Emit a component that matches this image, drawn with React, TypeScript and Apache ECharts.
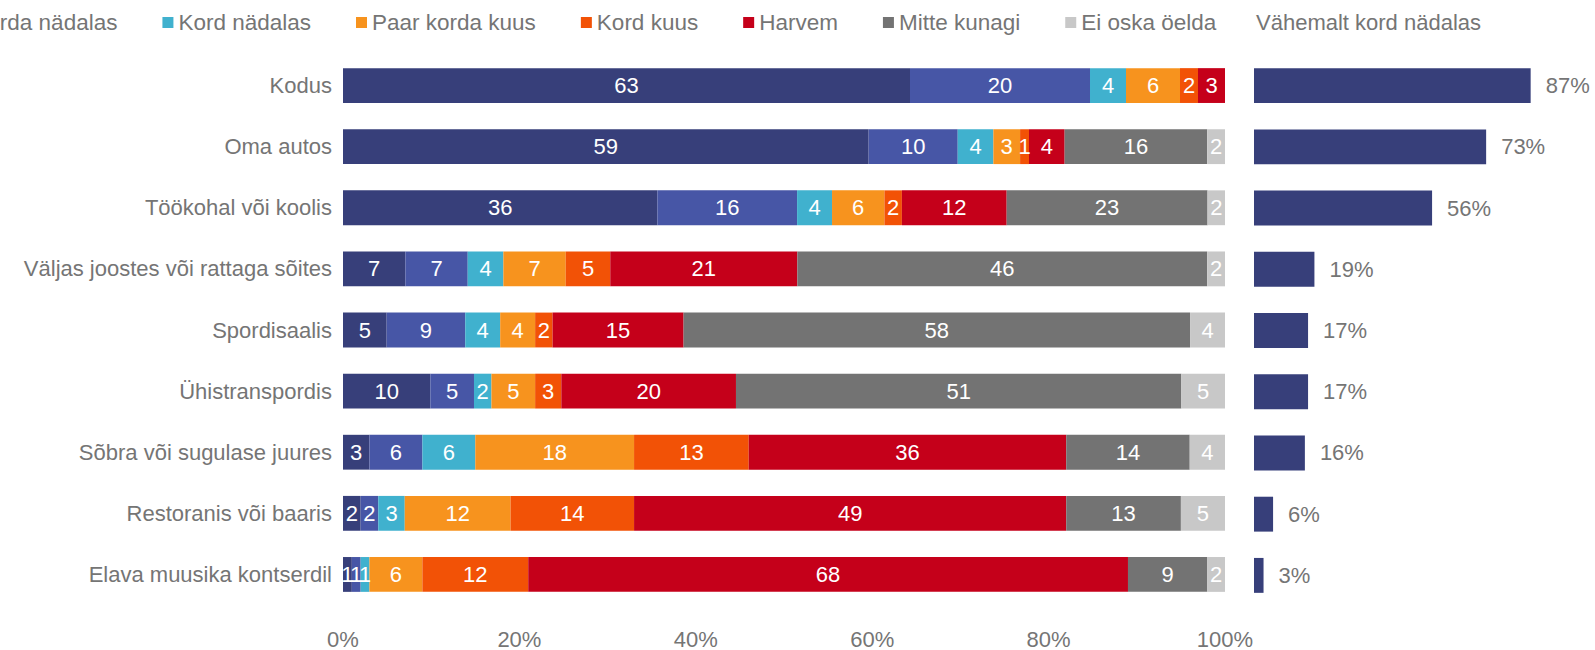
import React, { useEffect, useRef } from "react";
import * as echarts from "echarts";

const categories = [
  "Kodus",
  "Oma autos",
  "Töökohal või koolis",
  "Väljas joostes või rattaga sõites",
  "Spordisaalis",
  "Ühistranspordis",
  "Sõbra või sugulase juures",
  "Restoranis või baaris",
  "Elava muusika kontserdil",
];

const seriesNames = [
  "Iga päev",
  "Mitu korda nädalas",
  "Kord nädalas",
  "Paar korda kuus",
  "Kord kuus",
  "Harvem",
  "Mitte kunagi",
  "Ei oska öelda",
];

const colors = ["#373F7A", "#4756A6", "#40B1CE", "#F7931E", "#F25206", "#C5001A", "#737373", "#C8C8C8"];

const igaPaev = [63, 59, 36, 7, 5, 10, 3, 2, 1];
const mituKordaNadalas = [20, 10, 16, 7, 9, 5, 6, 2, 1];
const kordNadalas = [4, 4, 4, 4, 4, 2, 6, 3, 1];
const paarKordaKuus = [6, 3, 6, 7, 4, 5, 18, 12, 6];
const kordKuus = [2, 1, 2, 5, 2, 3, 13, 14, 12];
const harvem = [3, 4, 12, 21, 15, 20, 36, 49, 68];
const mitteKunagi = [0, 16, 23, 46, 58, 51, 14, 13, 9];
const eiOskaOelda = [0, 2, 2, 2, 4, 5, 4, 5, 2];

const vahemaltKordNadalas = [87, 73, 56, 19, 17, 17, 16, 6, 3];

const xTicks = [0, 20, 40, 60, 80, 100];

const allSeries = [igaPaev, mituKordaNadalas, kordNadalas, paarKordaKuus, kordKuus, harvem, mitteKunagi, eiOskaOelda];

const FONT = "Liberation Sans, Arial, sans-serif";
const GRAY = "#757575";

export default function App() {
  const ref = useRef<HTMLDivElement>(null);
  useEffect(() => {
    if (!ref.current) return;
    const chart = echarts.init(ref.current, null, { renderer: "svg" });
    const rowSums = categories.map((_, i) => allSeries.reduce((s, arr) => s + arr[i], 0));
    const top = 55;
    const height = 551;
    const stacked = allSeries.map((arr, si) => ({
      name: seriesNames[si],
      type: "bar",
      stack: "total",
      xAxisIndex: 0,
      yAxisIndex: 0,
      barWidth: "57%",
      itemStyle: { color: colors[si] },
      label: {
        show: true,
        position: "inside",
        color: "#ffffff",
        fontSize: 22,
        fontFamily: FONT,
        formatter: (p: any) => (arr[p.dataIndex] ? String(arr[p.dataIndex]) : ""),
      },
      data: arr.map((v, i) => (v / rowSums[i]) * 100),
    }));
    chart.setOption({
      animation: false,
      color: colors,
      title: {
        text: "Vähemalt kord nädalas",
        left: 1256,
        top: 11,
        padding: 0,
        textStyle: { fontSize: 22, fontWeight: "normal", color: GRAY, fontFamily: FONT },
      },
      legend: {
        data: seriesNames,
        left: -236,
        top: 11,
        width: 1900,
        padding: 0,
        itemGap: 45,
        itemWidth: 11,
        itemHeight: 11,
        icon: "rect",
        textStyle: { fontSize: 22.5, color: GRAY, fontFamily: FONT },
      },
      grid: [
        { left: 343, top, width: 882, height },
        { left: 1254, top, width: 318, height },
      ],
      xAxis: [
        {
          type: "value",
          gridIndex: 0,
          min: 0,
          max: 100,
          interval: 20,
          axisLine: { show: false },
          axisTick: { show: false },
          splitLine: { show: false },
          axisLabel: {
            formatter: (v: number) => (xTicks.includes(v) ? v + "%" : ""),
            fontSize: 22,
            color: GRAY,
            fontFamily: FONT,
            margin: 23,
          },
        },
        {
          type: "value",
          gridIndex: 1,
          min: 0,
          max: 100,
          show: false,
        },
      ],
      yAxis: [
        {
          type: "category",
          gridIndex: 0,
          data: categories,
          inverse: true,
          axisLine: { show: false },
          axisTick: { show: false },
          axisLabel: { fontSize: 22, color: GRAY, fontFamily: FONT, margin: 11 },
        },
        {
          type: "category",
          gridIndex: 1,
          data: categories,
          inverse: true,
          show: false,
        },
      ],
      series: [
        ...stacked,
        {
          name: "Vähemalt kord nädalas",
          type: "bar",
          xAxisIndex: 1,
          yAxisIndex: 1,
          barWidth: "57%",
          itemStyle: { color: "#373F7A" },
          label: {
            show: true,
            position: "right",
            distance: 15,
            color: GRAY,
            fontSize: 22,
            fontFamily: FONT,
            formatter: "{c}%",
          },
          data: vahemaltKordNadalas,
        },
      ],
    });
    return () => chart.dispose();
  }, []);
  return <div ref={ref} style={{ width: 1595, height: 650, position: "absolute", left: 0, top: 0 }} />;
}
